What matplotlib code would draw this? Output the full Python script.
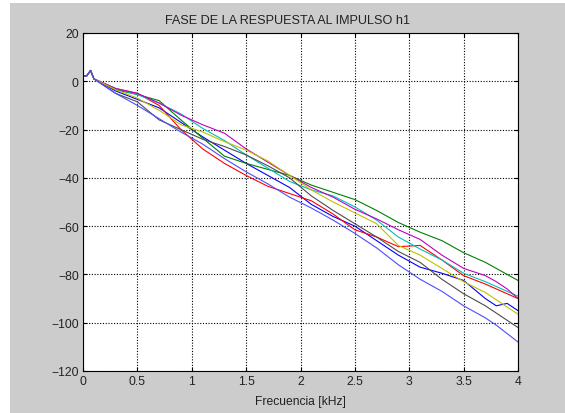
import matplotlib
matplotlib.use("Agg")
import matplotlib.pyplot as plt
from matplotlib.patches import Rectangle

# frecuencias (kHz) donde se leyeron los valores
freq = [0, 0.03, 0.07, 0.1, 0.3, 0.5, 0.7, 0.9, 1.1, 1.3, 1.5, 1.7, 1.9,
        2.1, 2.3, 2.5, 2.7, 2.9, 3.1, 3.3, 3.5, 3.7, 3.8, 3.9, 4.0]

# fase (grados) de cada respuesta
fase_b1 = [2.5, 2.0, 4.5, 1.0, -4, -7.5, -11, -17, -23, -28.5, -34, -39, -44,
           -51, -56, -60, -66, -72, -77, -79.5, -82.5, -90, -93, -92, -95]
fase_g = [2.5, 2.0, 4.5, 1.0, -3.5, -5.5, -8, -16, -23.5, -31, -34, -36.5, -39,
          -43, -46, -49, -53.5, -58.5, -62.5, -66, -71, -75, -77.5, -80, -82.5]
fase_r = [2.5, 2.0, 4.5, 1.0, -3, -5, -10, -20, -28, -34, -39, -43.5, -46.5,
          -49.5, -55, -61.5, -64.5, -68.5, -68, -74, -80.5, -84, -86, -88, -90]
fase_c = [2.5, 2.0, 4.5, 1.0, -3, -5.5, -9, -13.5, -19.5, -24.5, -30.5, -36, -41.5,
          -45, -47.5, -52, -57.5, -64.5, -69.5, -74, -79.5, -83, -85, -87, -89]
fase_m = [2.5, 2.0, 4.5, 1.0, -3, -5, -9, -14, -18, -21.5, -28, -33.5, -39,
          -44, -48, -53, -57, -61.5, -65.5, -72, -77.5, -80.5, -83, -86, -90]
fase_y = [2.5, 2.0, 4.5, 1.0, -3.5, -7, -12, -18, -21, -25, -28.5, -33, -39,
          -45, -50, -54.5, -59, -68, -72, -77.5, -83, -87.5, -90.5, -93.5, -96.5]
fase_k = [2.5, 2.0, 4.5, 1.0, -5, -8.5, -16, -20, -24, -27, -30.5, -35, -40,
          -47.5, -53.5, -59, -64.5, -70.5, -75, -82, -88, -93, -96, -99, -102]
fase_b2 = [2.5, 2.0, 4.5, 1.0, -5, -10, -15.5, -21, -26, -32, -37.5, -42.5, -48,
           -52.5, -57.5, -63, -69, -76, -82, -87, -93, -98, -101, -104.5, -108]

series = [fase_b1, fase_g, fase_r, fase_c, fase_m, fase_y, fase_k, fase_b2]
# orden de colores clasico de matlab
colores = [(0, 0, 1), (0, 0.5, 0), (1, 0, 0), (0, 0.75, 0.75),
           (0.75, 0, 0.75), (0.75, 0.75, 0), (0.3, 0.3, 0.3), (0.3, 0.3, 1)]

plt.rcParams["font.family"] = ["Liberation Sans", "DejaVu Sans"]
plt.rcParams["font.size"] = 8.7

fig = plt.figure(figsize=(5.65, 4.14), dpi=100, facecolor="white")
# fondo gris de la ventana de matlab
fig.patches.append(Rectangle((10 / 565, 0), 1, 1 - 4 / 414, transform=fig.transFigure,
                             facecolor="#cccccc", edgecolor="none", zorder=-10))

ax = fig.add_axes([83 / 565, 1 - 372 / 414, 435 / 565, 338 / 414])
ax.set_facecolor("white")

for s, c in zip(series, colores):
    ax.plot(freq, s, color=c, lw=0.8)

ax.set_xlim(0, 4)
ax.set_ylim(-120, 20)
ax.set_xticks([0, 0.5, 1, 1.5, 2, 2.5, 3, 3.5, 4])
ax.set_xticklabels(["0", "0.5", "1", "1.5", "2", "2.5", "3", "3.5", "4"])
ax.set_yticks(range(-120, 21, 20))
ax.grid(True, color="black", linestyle=(0, (1, 1.5)), linewidth=0.8)
ax.tick_params(direction="in", length=3, width=0.8, top=True, right=True,
               colors="black", labelcolor="#222222", pad=3)
for sp in ax.spines.values():
    sp.set_linewidth(0.8)

ax.set_title("FASE DE LA RESPUESTA AL IMPULSO h1", fontsize=9.1, color="#222222",
             pad=7, x=0.47)
ax.set_xlabel("Frecuencia [kHz]", color="#222222", labelpad=6)

plt.savefig("out.png", dpi=100, facecolor=fig.get_facecolor())
